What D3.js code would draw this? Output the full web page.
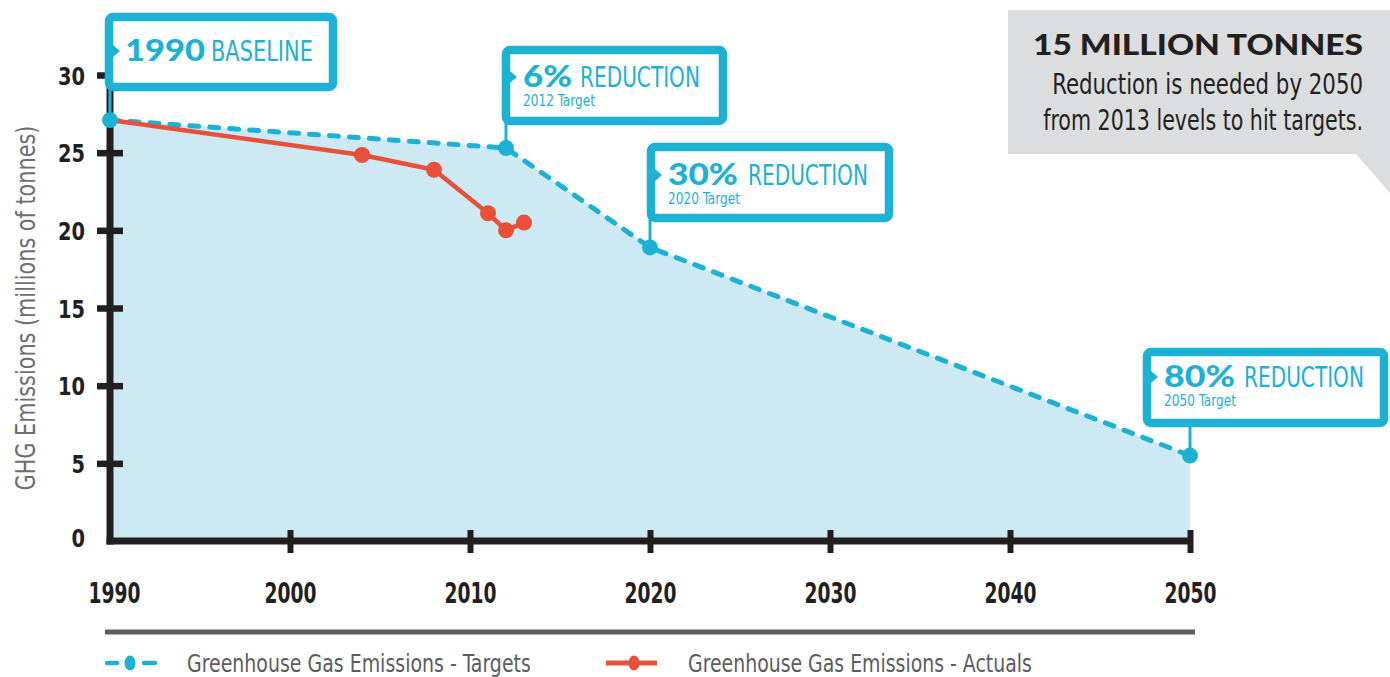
<!DOCTYPE html>
<html><head><meta charset="utf-8">
<script src="https://cdn.jsdelivr.net/npm/d3@7"></script>
<style>
html,body{margin:0;padding:0;background:#fff;}
svg{display:block;}
.cond{font-family:"DejaVu Sans Condensed","Roboto",sans-serif;}
.heavy{font-family:"Lato","DejaVu Sans",sans-serif;font-weight:900;}
</style>
</head><body>
<svg id="chart" width="1390" height="677"></svg>
<script>
// ---- data ----
const targetYears = [1990, 2012, 2020, 2050];
const targetValues = [27.1, 25.3, 18.9, 5.5];
const actualYears = [1990, 2004, 2008, 2011, 2012, 2013];
const actualValues = [27.1, 24.85, 23.9, 21.1, 20.0, 20.5];
const xTicks = [1990, 2000, 2010, 2020, 2030, 2040, 2050];
const yTicks = [0, 5, 10, 15, 20, 25, 30];
const annoBig = ["1990", "6%", "30%", "80%"];
const annoRest = ["BASELINE", "REDUCTION", "REDUCTION", "REDUCTION"];
const annoSub = ["", "2012 Target", "2020 Target", "2050 Target"];
const calloutTitle = "15 MILLION TONNES";
const calloutLines = ["Reduction is needed by 2050", "from 2013 levels to hit targets."];
const legendLabels = ["Greenhouse Gas Emissions - Targets", "Greenhouse Gas Emissions - Actuals"];
const yTitle = "GHG Emissions (millions of tonnes)";

const BLUE = "#1db1d4", RED = "#e9503a", FILL = "#cdeaf4", AXIS = "#231f20", GREY = "#5b5c5e";

const svg = d3.select("#chart");
const x = d3.scaleLinear().domain([1990, 2050]).range([110, 1190]);
const y = d3.scaleLinear().domain([0, 30]).range([541, 75]);

const targets = targetYears.map((t, i) => ({year: t, v: targetValues[i]}));
const actuals = actualYears.map((t, i) => ({year: t, v: actualValues[i]}));

// horizontally fit a text element to a target width via scale transform
function fitNode(node, px, py, w, extra) {
  const sel = d3.select(node).attr("x", 0).attr("y", 0);
  const L = node.getComputedTextLength() || w;
  sel.attr("transform", `translate(${px},${py}) ${extra || ""} scale(${w / L},1)`);
}
function addText(parent, cls, px, py, w, size, fill, txt, anchor, weight) {
  const t = parent.append("text").attr("class", cls).attr("fill", fill)
    .attr("text-anchor", anchor || "start").style("font-size", size + "px").text(txt);
  if (weight) t.style("font-weight", weight);
  fitNode(t.node(), px, py, w);
  return t;
}

// area
svg.append("path").datum(targets)
  .attr("fill", FILL)
  .attr("d", d3.area().x(d => x(d.year)).y0(y(0)).y1(d => y(d.v)));

// y axis
const yAx = svg.append("g").attr("transform", `translate(${x(1990)},0)`)
  .call(d3.axisLeft(y).tickValues(yTicks).tickSize(13).tickPadding(0));
yAx.select(".domain").remove();
yAx.selectAll(".tick line").attr("x1", d => d === 0 ? 0 : 13).attr("x2", d => d === 0 ? 0 : -13)
  .attr("stroke", AXIS).attr("stroke-width", 6.5);
yAx.selectAll(".tick text")
  .attr("class", "cond").style("font-size", "25px").style("font-weight", "700").attr("fill", AXIS)
  .each(function(d) { fitNode(this, -25, d === 0 ? -4 : 0, String(d).length * 13.5); d3.select(this).attr("dy", "0.36em"); });
svg.append("line").attr("x1", x(1990)).attr("x2", x(1990)).attr("y1", y(30)).attr("y2", y(0) + 3.5)
  .attr("stroke", AXIS).attr("stroke-width", 7);

// x axis
const xAx = svg.append("g").attr("transform", `translate(0,${y(0)})`)
  .call(d3.axisBottom(x).tickValues(xTicks).tickFormat(d3.format("d")).tickSize(12).tickPadding(0));
xAx.select(".domain").remove();
xAx.selectAll(".tick line").attr("y1", d => d === 1990 ? 0 : -11).attr("y2", d => d === 1990 ? 0 : 12)
  .attr("stroke", AXIS).attr("stroke-width", 6);
xAx.selectAll(".tick text")
  .attr("class", "cond").style("font-size", "28px").style("font-weight", "700").attr("fill", AXIS)
  .each(function(d) { fitNode(this, d === 1990 ? 4 : 0, 62, 52); d3.select(this).attr("dy", 0); });
svg.append("line").attr("x1", x(1990) - 3.5).attr("x2", x(2050)).attr("y1", y(0)).attr("y2", y(0))
  .attr("stroke", AXIS).attr("stroke-width", 7);

// y title
{
  const t = svg.append("text").attr("class", "cond").attr("text-anchor", "middle").attr("fill", "#6d6e70")
    .style("font-size", "27px").text(yTitle);
  const L = t.node().getComputedTextLength();
  t.attr("transform", `translate(35,${(y(0) + y(30)) / 2}) rotate(-90) scale(${365 / L},1)`);
}

// target line
svg.append("path").datum(targets).attr("fill", "none").attr("stroke", BLUE)
  .attr("stroke-width", 5).attr("stroke-dasharray", "9,11").attr("stroke-linecap", "round")
  .attr("d", d3.line().x(d => x(d.year)).y(d => y(d.v)));

// actual line
svg.append("path").datum(actuals).attr("fill", "none").attr("stroke", RED)
  .attr("stroke-width", 4.5).attr("stroke-linejoin", "round")
  .attr("d", d3.line().x(d => x(d.year)).y(d => y(d.v)));
svg.selectAll(".adot").data(actuals.slice(1)).join("circle")
  .attr("cx", d => x(d.year)).attr("cy", d => y(d.v)).attr("r", 8).attr("fill", RED);

// annotation boxes (layout)
const boxes = [
  {x: 109, y: 17, w: 224, h: 70, cx: x(1990), big: 125, base: 61, bigW: 80, restX: 211, restW: 102},
  {x: 506, y: 50, w: 217, h: 71, cx: x(2012), big: 523, base: 87, bigW: 49, restX: 580, restW: 120, subW: 72},
  {x: 651, y: 147, w: 238, h: 71, cx: x(2020), big: 668, base: 185, bigW: 70, restX: 748, restW: 120, subW: 72},
  {x: 1147, y: 352, w: 237, h: 71, cx: x(2050), big: 1164, base: 387, bigW: 71, restX: 1244, restW: 120, subW: 72}
];
boxes.forEach((b, i) => {
  svg.append("line").attr("x1", b.cx).attr("x2", b.cx).attr("y1", b.y + b.h).attr("y2", y(targetValues[i]))
    .attr("stroke", BLUE).attr("stroke-width", 3);
});
svg.selectAll(".tdot").data(targets).join("circle")
  .attr("cx", d => x(d.year)).attr("cy", d => y(d.v)).attr("r", 8).attr("fill", BLUE);

boxes.forEach((b, i) => {
  const g = svg.append("g");
  g.append("rect").attr("x", b.x).attr("y", b.y).attr("width", b.w).attr("height", b.h)
    .attr("rx", 4).attr("fill", "#fff").attr("stroke", BLUE).attr("stroke-width", 8.5);
  const lx = b.x + 4, c = b.base - 10;
  g.append("path").attr("d", `M${lx},${c-6}L${lx+7},${c}L${lx},${c+6}Z`).attr("fill", BLUE);
  addText(g, "heavy", b.big, b.base, b.bigW, 31, BLUE, annoBig[i]);
  addText(g, "cond", b.restX, b.base, b.restW, 29, BLUE, annoRest[i]);
  if (annoSub[i]) addText(g, "cond", b.big, b.base + 19, b.subW, 15, BLUE, annoSub[i]);
});

// callout grey box
const cg = svg.append("g");
cg.append("path").attr("d", "M1008,10H1390V193L1356,154H1008Z").attr("fill", "#dcdddf");
addText(cg, "heavy", 1363, 55, 330, 28, AXIS, calloutTitle, "end");
const cw = [311, 320];
calloutLines.forEach((t, i) => addText(cg, "cond", 1363, 94 + i * 36, cw[i], 29, AXIS, t, "end"));

// legend rule
svg.append("line").attr("x1", 105).attr("x2", 1195).attr("y1", 632).attr("y2", 632)
  .attr("stroke", GREY).attr("stroke-width", 5);

// legend
const lg = svg.append("g");
lg.append("line").attr("x1", 107).attr("x2", 117).attr("y1", 663).attr("y2", 663)
  .attr("stroke", BLUE).attr("stroke-width", 4.5).attr("stroke-linecap", "round");
lg.append("line").attr("x1", 144).attr("x2", 155).attr("y1", 663).attr("y2", 663)
  .attr("stroke", BLUE).attr("stroke-width", 4.5).attr("stroke-linecap", "round");
lg.append("ellipse").attr("cx", 130).attr("cy", 663).attr("rx", 5.5).attr("ry", 7.5).attr("fill", BLUE);
lg.append("line").attr("x1", 606).attr("x2", 657).attr("y1", 663).attr("y2", 663)
  .attr("stroke", RED).attr("stroke-width", 5);
lg.append("ellipse").attr("cx", 634).attr("cy", 663).attr("rx", 5.5).attr("ry", 7.5).attr("fill", RED);
[187, 688].forEach((lx, i) => addText(lg, "cond", lx, 672, 344, 25, GREY, legendLabels[i], "start", "500"));
</script>
</body></html>
